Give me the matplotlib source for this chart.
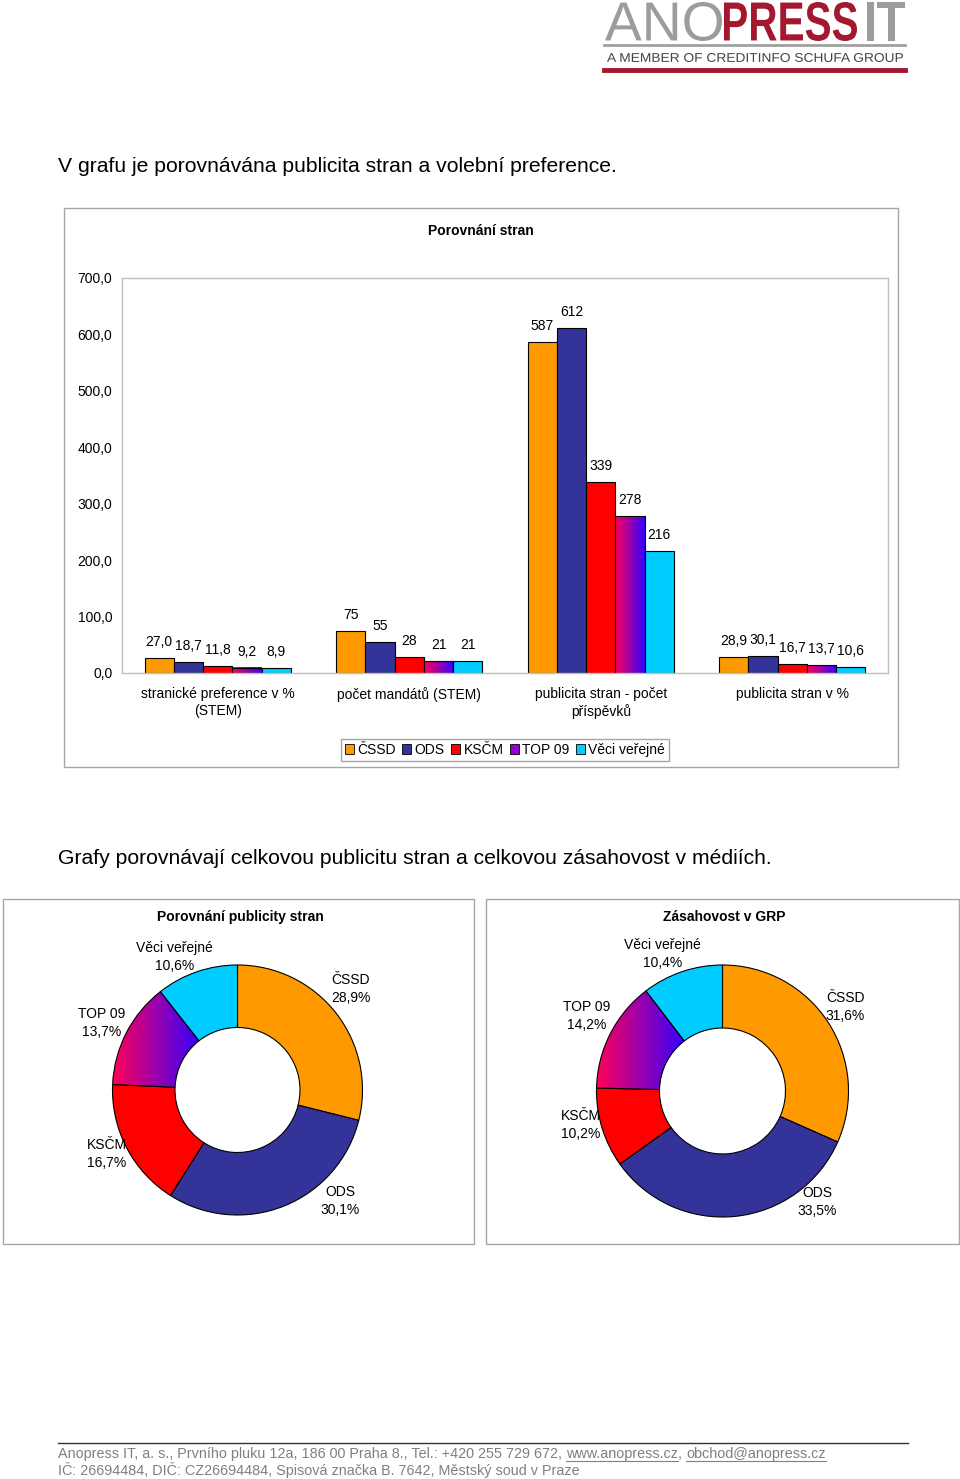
import numpy as np
import matplotlib.pyplot as plt
from matplotlib.patches import Rectangle, PathPatch
from matplotlib.textpath import TextPath
from matplotlib.font_manager import FontProperties
from matplotlib.transforms import Affine2D
from matplotlib.lines import Line2D

W, H = 960, 1479
plt.rcParams['font.family'] = ['Liberation Sans', 'DejaVu Sans']

# data
parties = ['ČSSD', 'ODS', 'KSČM', 'TOP 09', 'Věci veřejné']
party_colors = ['#FF9900', '#333399', '#FF0000', '#9900CC', '#00CCFF']
groups = ['stranické preference v %\n(STEM)', 'počet mandátů (STEM)',
          'publicita stran - počet\npříspěvků', 'publicita stran v %']
preference = [27.0, 18.7, 11.8, 9.2, 8.9]
mandates = [75, 55, 28, 21, 21]
posts = [587, 612, 339, 278, 216]
publicity_pct = [28.9, 30.1, 16.7, 13.7, 10.6]
group_decimals = [1, 0, 0, 1]
yticks = [0, 100, 200, 300, 400, 500, 600, 700]
ytick_labels = ['0,0', '100,0', '200,0', '300,0', '400,0', '500,0', '600,0', '700,0']

publicity_share = [28.9, 30.1, 16.7, 13.7, 10.6]
reach_share = [31.6, 33.5, 10.2, 14.2, 10.4]

grad_left = np.array([1.0, 0.0, 0.35])
grad_right = np.array([0.2, 0.0, 1.0])
t = np.linspace(0, 1, 256)[None, :, None]
grad = (1 - t) * grad_left + t * grad_right

fig = plt.figure(figsize=(W / 100, H / 100), dpi=100)


def px_ax(x0, y0, x1, y1):
    return fig.add_axes([x0 / W, 1 - y1 / H, (x1 - x0) / W, (y1 - y0) / H])


def box(x0, y0, x1, y1, ec='#A6A6A6'):
    fig.add_artist(Rectangle((x0 / W, 1 - y1 / H), (x1 - x0) / W, (y1 - y0) / H,
                             transform=fig.transFigure, fill=False, ec=ec, lw=1))


def ftext(x, y, s, **kw):
    return fig.text(x / W, 1 - y / H, s, **kw)


def hline(x0, x1, y, color, lw):
    fig.add_artist(Line2D([x0 / W, x1 / W], [1 - y / H, 1 - y / H],
                          transform=fig.transFigure, color=color, lw=lw))


def fit_text(s, x0, x1, ytop, ybot, color, weight):
    tp = TextPath((0, 0), s, size=50,
                  prop=FontProperties(family='Liberation Sans', weight=weight))
    ext = tp.get_extents()
    tr = (Affine2D().translate(-ext.x0, -ext.y0)
          .scale((x1 - x0) / ext.width, (ybot - ytop) / ext.height)
          .translate(x0, H - ybot))
    fig.add_artist(PathPatch(tp, transform=tr, fc=color, ec='none'))


# logo
fit_text('ANO', 605, 722, 2, 41, '#9C9C9C', 'normal')
fit_text('PRESS', 724, 857, 2, 41, '#A3172F', 'bold')
fit_text('IT', 867, 905, 2, 41, '#9C9C9C', 'bold')
hline(604, 905, 45, '#A0A0A0', 2)
fit_text('A MEMBER OF CREDITINFO SCHUFA GROUP', 607, 903, 53, 62, '#444444', 'normal')
hline(604, 905, 70, '#A3172F', 3.5)

ftext(58, 167, 'V grafu je porovnávána publicita stran a volební preference.',
      fontsize=15.2, va='center')
ftext(58, 858, 'Grafy porovnávají celkovou publicitu stran a celkovou zásahovost v médiích.',
      fontsize=15.2, va='center')

# bar chart
box(64, 208, 898, 767)
ftext(481, 231, 'Porovnání stran', fontsize=10, fontweight='bold', ha='center', va='center')
ax = px_ax(122, 278, 888, 673)
values = [preference, mandates, posts, publicity_pct]
x = np.arange(len(groups))
w = 0.153
for j, party in enumerate(parties):
    heights = [g[j] for g in values]
    xs = x + (j - 2) * w
    if party == 'TOP 09':
        bars = ax.bar(xs, heights, w, facecolor='none', edgecolor='black', lw=0.8, zorder=2)
        for b in bars:
            ax.imshow(grad, extent=[b.get_x(), b.get_x() + w, 0, b.get_height()],
                      aspect='auto', zorder=1.5)
    else:
        ax.bar(xs, heights, w, color=party_colors[j], edgecolor='black', lw=0.8, zorder=2)
    for xi, h, d in zip(xs, heights, group_decimals):
        lab = f'{h:.{d}f}'.replace('.', ',')
        ax.annotate(lab, (xi, h), xytext=(0, 11.5), textcoords='offset points',
                    ha='center', va='center', fontsize=10)
ax.set_xlim(-0.5, 3.5)
ax.set_ylim(0, 700)
ax.set_aspect('auto')
ax.set_yticks(yticks)
ax.set_yticklabels(ytick_labels, fontsize=10)
ax.set_xticks(x)
ax.set_xticklabels(groups, fontsize=10, linespacing=1.25)
ax.tick_params(axis='y', length=0, pad=7)
ax.tick_params(axis='x', length=0, pad=10)
for s in ax.spines.values():
    s.set_color('#BFBFBF')
    s.set_linewidth(1)

handles = [Rectangle((0, 0), 1, 1, fc=c, ec='black', lw=0.6) for c in party_colors]
leg = fig.legend(handles, parties, loc='center', bbox_to_anchor=(505 / W, 1 - 750 / H),
                 ncol=5, fancybox=False, edgecolor='#A6A6A6', handlelength=0.65,
                 handleheight=0.65, handletextpad=0.25, columnspacing=0.45,
                 borderpad=0.3, borderaxespad=0, fontsize=10, framealpha=1)
leg.get_frame().set_linewidth(1)


# donuts
def donut(cx, cy, r, vals, offsets, title, bx0, bx1):
    box(bx0, 899, bx1, 1244)
    ftext((bx0 + bx1) / 2 + 2, 917, title, fontsize=10, fontweight='bold',
          ha='center', va='center')
    half = 190
    a = px_ax(cx - half, cy - half, cx + half, cy + half)
    wedges, _ = a.pie(vals, colors=party_colors, startangle=90, counterclock=False,
                      radius=1, wedgeprops=dict(width=0.5, edgecolor='black', linewidth=0.8))
    wg = wedges[3]
    wg.set_facecolor('none')
    wg.set_zorder(2)
    ext = wg.get_path().get_extents()
    a.imshow(grad, extent=[ext.x0, ext.x1, ext.y0, ext.y1], aspect='auto',
             clip_path=wg, zorder=1.5)
    lim = half / r
    a.set_xlim(-lim, lim)
    a.set_ylim(-lim, lim)
    a.set_aspect('equal')
    a.axis('off')
    for name, v, (dx, dy) in zip(parties, vals, offsets):
        lab = f'{name}\n{v:.1f}%'.replace('.', ',')
        a.text(dx / r, dy / r, lab, ha='center', va='center', fontsize=10,
               linespacing=1.3, zorder=3)


left_offsets = [(113, 101), (103, -111), (-131, -64), (-136, 67), (-63, 133)]
right_offsets = [(123, 84), (95, -111), (-142, -34), (-136, 75), (-60, 137)]
donut(237.5, 1090, 125, publicity_share, left_offsets, 'Porovnání publicity stran', 3, 474)
donut(722.5, 1091, 126, reach_share, right_offsets, 'Zásahovost v GRP', 486, 959)

# footer
hline(58, 908, 1443, '#333333', 1)
fc = '#808080'
renderer = fig.canvas.get_renderer()
pieces = ['Anopress IT, a. s., Prvního pluku 12a, 186 00 Praha 8., Tel.: +420 255 729 672, ',
          'www.anopress.cz', ', ', 'obchod@anopress.cz']
xpos = 58
for i, p in enumerate(pieces):
    tx = ftext(xpos, 1454, p, fontsize=10.4, color=fc, va='center')
    bb = tx.get_window_extent(renderer)
    if i in (1, 3):
        hline(xpos, xpos + bb.width, 1461, fc, 0.8)
    xpos += bb.width
ftext(58, 1470, 'IČ: 26694484, DIČ: CZ26694484, Spisová značka B. 7642, Městský soud v Praze',
      fontsize=10.4, color=fc, va='center')

fig.savefig('out.png', dpi=100)
